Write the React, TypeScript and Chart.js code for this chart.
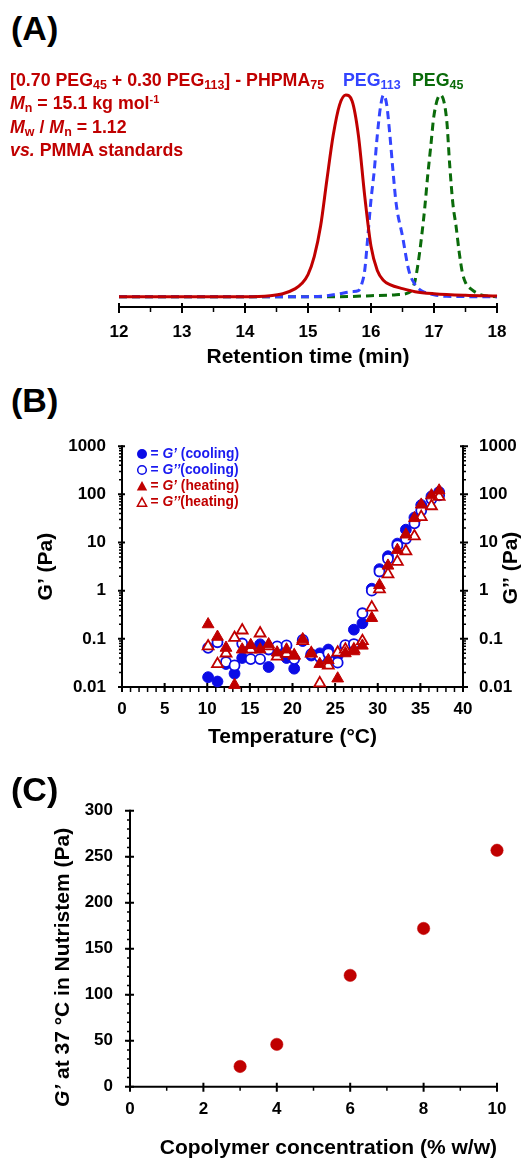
import React, { useEffect, useRef } from 'react';
import { Chart, registerables } from 'chart.js';

Chart.register(...registerables);

const FONT = "'Liberation Sans', Arial, Helvetica, sans-serif";
const RED = '#c00000';
const BLUE = '#0b0be6';
const BLUE_TEXT = '#1a1af0';
const BLUE_DASH = '#3344ff';
const GREEN = '#0a6b0a';

// ---------- Panel A: SEC traces (normalised RI signal vs retention time) ----------
const copolymerTime = [12.0, 14.0, 14.4, 14.6, 14.8, 14.9, 15.0, 15.1, 15.2, 15.3, 15.4, 15.5, 15.6, 15.7, 15.8, 15.9, 16.0, 16.1, 16.2, 16.3, 16.5, 16.7, 17.0, 17.5, 18.0];
const copolymerSignal = [0.0, 0.0, 0.005, 0.015, 0.04, 0.065, 0.11, 0.2, 0.35, 0.58, 0.8, 0.95, 1.0, 0.97, 0.8, 0.5, 0.25, 0.13, 0.08, 0.06, 0.04, 0.025, 0.015, 0.007, 0.003];

const peg113Time = [12.0, 15.0, 15.3, 15.5, 15.7, 15.8, 15.85, 15.9, 15.95, 16.0, 16.05, 16.1, 16.15, 16.2, 16.25, 16.3, 16.35, 16.4, 16.5, 16.6, 16.7, 16.8, 17.0, 17.2, 18.0];
const peg113Signal = [0.0, 0.0, 0.005, 0.015, 0.025, 0.03, 0.06, 0.13, 0.3, 0.48, 0.62, 0.8, 0.94, 1.0, 0.95, 0.8, 0.62, 0.46, 0.3, 0.13, 0.06, 0.03, 0.01, 0.002, 0.0];

const peg45Time = [12.0, 15.5, 16.0, 16.4, 16.6, 16.65, 16.7, 16.75, 16.8, 16.85, 16.9, 16.95, 17.0, 17.1, 17.2, 17.25, 17.3, 17.35, 17.4, 17.45, 17.5, 17.6, 17.7, 17.8, 18.0];
const peg45Signal = [0.0, 0.0, 0.005, 0.01, 0.02, 0.035, 0.08, 0.17, 0.29, 0.43, 0.6, 0.75, 0.9, 1.0, 0.88, 0.65, 0.46, 0.35, 0.22, 0.12, 0.07, 0.035, 0.015, 0.005, 0.0];

const timeTicks = [12, 13, 14, 15, 16, 17, 18];

// ---------- Panel B: rheology vs temperature ----------
const temperatures = [10.1, 11.2, 12.2, 13.2, 14.1, 15.1, 16.2, 17.2, 18.2, 19.3, 20.2, 21.2, 22.2, 23.2, 24.2, 25.3, 26.2, 27.2, 28.2, 29.3, 30.2, 31.2, 32.3, 33.3, 34.3, 35.1, 36.3, 37.2];
const gPrimeCooling = [0.016, 0.013, 0.03, 0.019, 0.04, 0.065, 0.077, 0.026, 0.05, 0.04, 0.024, 0.09, 0.045, 0.05, 0.06, 0.045, 0.07, 0.155, 0.21, 1.1, 2.8, 5.2, 9.5, 18.5, 33, 60, 91, 112];
const gDoublePrimeCooling = [0.065, 0.085, 0.033, 0.028, 0.08, 0.038, 0.038, 0.06, 0.07, 0.073, 0.038, 0.095, 0.048, 0.042, 0.05, 0.032, 0.074, 0.078, 0.34, 1.0, 2.5, 4.6, 8.7, 12, 25, 46, 80, 95];
const gPrimeHeating = [0.2, 0.11, 0.065, 0.011, 0.06, 0.074, 0.06, 0.077, 0.052, 0.06, 0.045, 0.098, 0.05, 0.03, 0.036, 0.015, 0.05, 0.055, 0.072, 0.27, 1.3, 3.3, 7, 14.6, 32, 61, 95, 120];
const gDoublePrimeHeating = [0.07, 0.03, 0.05, 0.105, 0.15, 0.06, 0.13, 0.07, 0.043, 0.049, 0.045, 0.09, 0.05, 0.012, 0.028, 0.052, 0.06, 0.06, 0.09, 0.45, 1.07, 2.2, 4.0, 6.6, 13.5, 34, 57, 89];

const tempTicks = [0, 5, 10, 15, 20, 25, 30, 35, 40];
const modulusTicks = [0.01, 0.1, 1, 10, 100, 1000];
const modulusTickLabels = ['0.01', '0.1', '1', '10', '100', '1000'];

// ---------- Panel C: G' at 37 °C vs concentration ----------
const concentrations = [3, 4, 6, 8, 10];
const storageModulus37 = [22, 46, 121, 172, 257];
const concTicks = [0, 2, 4, 6, 8, 10];
const gTicks = [0, 50, 100, 150, 200, 250, 300];

// ---------- helpers ----------
type AxisSpec = {
  id: string;
  side: 'bottom' | 'left' | 'right';
  major: number[];
  minor: number[];
  majIn: number;
  majOut: number;
  minIn: number;
  minOut: number;
};

function range(a: number, b: number, step: number) {
  const out: number[] = [];
  for (let v = a; v <= b + 1e-9; v += step) out.push(Math.round(v * 1000) / 1000);
  return out;
}

function logMinor(minExp: number, maxExp: number) {
  const out: number[] = [];
  for (let e = minExp; e < maxExp; e++) {
    for (let m = 2; m <= 9; m++) out.push(m * Math.pow(10, e));
  }
  return out;
}

function makeAxisPlugin(specs: AxisSpec[]) {
  return {
    id: 'customAxes',
    beforeDatasetsDraw(chart: any) {
      const ctx = chart.ctx;
      const ca = chart.chartArea;
      ctx.save();
      ctx.strokeStyle = '#000';
      ctx.lineCap = 'butt';
      for (const s of specs) {
        const sc = chart.scales[s.id];
        ctx.lineWidth = 2;
        ctx.beginPath();
        if (s.side === 'bottom') {
          ctx.moveTo(ca.left - 1, ca.bottom);
          ctx.lineTo(ca.right + 1, ca.bottom);
        } else {
          const x = s.side === 'left' ? ca.left : ca.right;
          ctx.moveTo(x, ca.top - 1);
          ctx.lineTo(x, ca.bottom + 1);
        }
        ctx.stroke();
        const drawSet = (vals: number[], inL: number, outL: number, w: number) => {
          ctx.lineWidth = w;
          ctx.beginPath();
          for (const v of vals) {
            const p = sc.getPixelForValue(v);
            if (s.side === 'bottom') {
              ctx.moveTo(p, ca.bottom - inL);
              ctx.lineTo(p, ca.bottom + outL);
            } else if (s.side === 'left') {
              ctx.moveTo(ca.left - outL, p);
              ctx.lineTo(ca.left + inL, p);
            } else {
              ctx.moveTo(ca.right - inL, p);
              ctx.lineTo(ca.right + outL, p);
            }
          }
          ctx.stroke();
        };
        drawSet(s.minor, s.minIn, s.minOut, 1.5);
        drawSet(s.major, s.majIn, s.majOut, 2);
      }
      ctx.restore();
    },
  };
}

type Seg = { text: string; italic?: boolean };
type RotTitle = { x: number; y: number; size: number; segs: Seg[]; anchor: 'start' | 'center' };

function makeRotTitlePlugin(items: RotTitle[]) {
  return {
    id: 'rotTitles',
    afterDraw(chart: any) {
      const ctx = chart.ctx;
      for (const t of items) {
        ctx.save();
        ctx.translate(t.x, t.y);
        ctx.rotate(-Math.PI / 2);
        ctx.textBaseline = 'middle';
        ctx.textAlign = 'left';
        ctx.fillStyle = '#000';
        const fontOf = (s: Seg) => `${s.italic ? 'italic ' : ''}bold ${t.size}px ${FONT}`;
        let total = 0;
        for (const s of t.segs) {
          ctx.font = fontOf(s);
          total += ctx.measureText(s.text).width;
        }
        let pos = t.anchor === 'center' ? -total / 2 : 0;
        for (const s of t.segs) {
          ctx.font = fontOf(s);
          ctx.fillText(s.text, pos, 0);
          pos += ctx.measureText(s.text).width;
        }
        ctx.restore();
      }
    },
  };
}

function fixedTicks(values: number[]) {
  return (scale: any) => {
    scale.ticks = values.map((v) => ({ value: v }));
  };
}

function ChartCanvas({ make, top, height }: { make: () => any; top: number; height: number }) {
  const ref = useRef<HTMLCanvasElement | null>(null);
  useEffect(() => {
    if (!ref.current) return;
    const chart = new Chart(ref.current, make());
    return () => chart.destroy();
  }, []);
  return (
    <canvas
      ref={ref}
      width={527}
      height={height}
      style={{ position: 'absolute', left: 0, top, width: 527, height }}
    />
  );
}

const tickFont = { family: FONT, size: 17, weight: 'bold' as const };
const titleFont = { family: FONT, size: 21, weight: 'bold' as const };
const noGrid = { display: false, drawTicks: false, tickLength: 0 };

// ---------- chart configs ----------
function makeChartA() {
  const toPts = (xs: number[], ys: number[]) => xs.map((x, i) => ({ x, y: ys[i] }));
  return {
    type: 'line',
    data: {
      datasets: [
        { label: 'copolymer', data: toPts(copolymerTime, copolymerSignal), borderColor: RED, borderWidth: 3, pointRadius: 0, cubicInterpolationMode: 'monotone', fill: false, clip: false },
        { label: 'PEG113', data: toPts(peg113Time, peg113Signal), borderColor: BLUE_DASH, borderWidth: 3, borderDash: [8, 5], pointRadius: 0, cubicInterpolationMode: 'monotone', fill: false, clip: false },
        { label: 'PEG45', data: toPts(peg45Time, peg45Signal), borderColor: GREEN, borderWidth: 3, borderDash: [8, 5], pointRadius: 0, cubicInterpolationMode: 'monotone', fill: false, clip: false },
      ],
    },
    options: {
      responsive: false,
      animation: false,
      events: [],
      layout: { padding: { left: 119, right: 30, top: 35, bottom: 0 } },
      plugins: { legend: { display: false }, tooltip: { enabled: false } },
      scales: {
        x: {
          type: 'linear',
          min: 12,
          max: 18,
          afterBuildTicks: fixedTicks(timeTicks),
          afterFit: (s: any) => { s.height = 73; },
          grid: noGrid,
          border: { display: false },
          ticks: { font: tickFont, color: '#000', padding: 15, maxRotation: 0, autoSkip: false, callback: (v: any) => String(v) },
          title: { display: true, text: 'Retention time (min)', font: titleFont, color: '#000', padding: { top: 0, bottom: 10 } },
        },
        y: { type: 'linear', display: false, min: -0.051, max: 1.0 },
      },
    },
    plugins: [
      makeAxisPlugin([
        { id: 'x', side: 'bottom', major: timeTicks, minor: range(12.5, 17.5, 1), majIn: 4, majOut: 6, minIn: 0, minOut: 5 },
      ]),
    ],
  };
}

function makeChartB() {
  const pts = (ys: number[]) => temperatures.map((t, i) => ({ x: t, y: ys[i] }));
  return {
    type: 'scatter',
    data: {
      datasets: [
        { label: "G' (heating)", data: pts(gPrimeHeating), pointStyle: 'triangle', pointRadius: 6.8, pointBackgroundColor: RED, pointBorderColor: RED, pointBorderWidth: 1, clip: false },
        { label: "G'' (heating)", data: pts(gDoublePrimeHeating), pointStyle: 'triangle', pointRadius: 6.3, pointBackgroundColor: '#ffffff', pointBorderColor: RED, pointBorderWidth: 1.8, clip: false },
        { label: "G'' (cooling)", data: pts(gDoublePrimeCooling), pointStyle: 'circle', pointRadius: 5, pointBackgroundColor: '#ffffff', pointBorderColor: BLUE, pointBorderWidth: 1.8, clip: false },
        { label: "G' (cooling)", data: pts(gPrimeCooling), pointStyle: 'circle', pointRadius: 5.4, pointBackgroundColor: BLUE, pointBorderColor: BLUE, pointBorderWidth: 1, clip: false },
      ],
    },
    options: {
      responsive: false,
      animation: false,
      events: [],
      layout: { padding: { left: 0, right: 0, top: 21.7, bottom: 0 } },
      plugins: { legend: { display: false }, tooltip: { enabled: false } },
      scales: {
        x: {
          type: 'linear',
          min: 0,
          max: 40,
          afterBuildTicks: fixedTicks(tempTicks),
          afterFit: (s: any) => { s.height = 73; },
          grid: noGrid,
          border: { display: false },
          ticks: { font: tickFont, color: '#000', padding: 12, maxRotation: 0, autoSkip: false, callback: (v: any) => String(v) },
          title: { display: true, text: 'Temperature (°C)', font: titleFont, color: '#000', padding: { top: 0, bottom: 10.4 } },
        },
        y: {
          type: 'logarithmic',
          position: 'left',
          min: 0.01,
          max: 1000,
          afterBuildTicks: fixedTicks(modulusTicks),
          afterFit: (s: any) => { s.width = 122; },
          grid: noGrid,
          border: { display: false },
          ticks: { font: tickFont, color: '#000', padding: 16, autoSkip: false, callback: (v: any) => modulusTickLabels[modulusTicks.indexOf(Number(v))] ?? '' },
          title: { display: true, text: 'G’ (Pa)', font: titleFont, color: '#000', padding: { top: 33.5, bottom: 0 } },
        },
        y2: {
          type: 'logarithmic',
          position: 'right',
          min: 0.01,
          max: 1000,
          afterBuildTicks: fixedTicks(modulusTicks),
          afterFit: (s: any) => { s.width = 64; },
          grid: noGrid,
          border: { display: false },
          ticks: { font: tickFont, color: '#000', padding: 16, autoSkip: false, callback: (v: any) => modulusTickLabels[modulusTicks.indexOf(Number(v))] ?? '' },
        },
      },
    },
    plugins: [
      makeAxisPlugin([
        { id: 'x', side: 'bottom', major: tempTicks, minor: range(1, 39, 1), majIn: 4, majOut: 5, minIn: 0, minOut: 5 },
        { id: 'y', side: 'left', major: modulusTicks, minor: logMinor(-2, 3), majIn: 3, majOut: 4, minIn: 0, minOut: 3 },
        { id: 'y2', side: 'right', major: modulusTicks, minor: logMinor(-2, 3), majIn: 3, majOut: 5, minIn: 0, minOut: 3 },
      ]),
      makeRotTitlePlugin([
        { x: 511, y: 148, size: 21, anchor: 'center', segs: [{ text: 'G’’ (Pa)' }] },
      ]),
    ],
  };
}

function makeChartC() {
  return {
    type: 'scatter',
    data: {
      datasets: [
        { label: "G' at 37 °C", data: concentrations.map((c, i) => ({ x: c, y: storageModulus37[i] })), pointStyle: 'circle', pointRadius: 6.2, pointBackgroundColor: RED, pointBorderColor: RED, pointBorderWidth: 0.5, clip: false },
      ],
    },
    options: {
      responsive: false,
      animation: false,
      events: [],
      layout: { padding: { left: 0, right: 30, top: 30.7, bottom: 0 } },
      plugins: { legend: { display: false }, tooltip: { enabled: false } },
      scales: {
        x: {
          type: 'linear',
          min: 0,
          max: 10,
          afterBuildTicks: fixedTicks(concTicks),
          afterFit: (s: any) => { s.height = 71.3; },
          grid: noGrid,
          border: { display: false },
          ticks: { font: tickFont, color: '#000', padding: 12, maxRotation: 0, autoSkip: false, callback: (v: any) => String(v) },
          title: { display: true, text: 'Copolymer concentration (% w/w)', align: 'end', font: titleFont, color: '#000', padding: { top: 0, bottom: -2.5 } },
        },
        y: {
          type: 'linear',
          min: 0,
          max: 300,
          afterBuildTicks: fixedTicks(gTicks),
          afterFit: (s: any) => { s.width = 130; },
          grid: noGrid,
          border: { display: false },
          ticks: { font: tickFont, color: '#000', padding: 17, autoSkip: false, callback: (v: any) => String(v) },
        },
      },
    },
    plugins: [
      makeAxisPlugin([
        { id: 'x', side: 'bottom', major: concTicks, minor: range(1, 9, 2), majIn: 4, majOut: 5, minIn: 0, minOut: 4 },
        { id: 'y', side: 'left', major: gTicks, minor: range(10, 290, 10), majIn: 4, majOut: 5, minIn: 0, minOut: 3 },
      ]),
      makeRotTitlePlugin([
        { x: 63, y: 327, size: 21, anchor: 'start', segs: [{ text: 'G’', italic: true }, { text: ' at 37 °C in Nutristem (Pa)' }] },
      ]),
    ],
  };
}

// ---------- HTML text pieces ----------
const Sub = ({ children }: { children: React.ReactNode }) => (
  <span style={{ fontSize: '0.7em', position: 'relative', top: 3 }}>{children}</span>
);
const Sup = ({ children }: { children: React.ReactNode }) => (
  <span style={{ fontSize: '0.62em', position: 'relative', top: -6.5 }}>{children}</span>
);

function PanelLabel({ text, top }: { text: string; top: number }) {
  return (
    <div style={{ position: 'absolute', left: 11, top, font: `bold 34px ${FONT}`, lineHeight: '34px', color: '#000', whiteSpace: 'nowrap' }}>
      {text}
    </div>
  );
}

function LegendMarker({ kind, color }: { kind: 'dot' | 'ring' | 'tri' | 'otri'; color: string }) {
  return (
    <svg width={12} height={12} style={{ position: 'absolute', left: -6, top: -6 }}>
      {kind === 'dot' && <circle cx={6} cy={6} r={5} fill={color} />}
      {kind === 'ring' && <circle cx={6} cy={6} r={4.3} fill="none" stroke={color} strokeWidth={1.5} />}
      {kind === 'tri' && <polygon points="6,1 11.2,10.5 0.8,10.5" fill={color} />}
      {kind === 'otri' && <polygon points="6,1.8 10.6,10.2 1.4,10.2" fill="none" stroke={color} strokeWidth={1.5} />}
    </svg>
  );
}

const legendRows: { kind: 'dot' | 'ring' | 'tri' | 'otri'; color: string; marker: string; g: string; rest: string }[] = [
  { kind: 'dot', color: BLUE_TEXT, marker: BLUE, g: 'G’', rest: ' (cooling)' },
  { kind: 'ring', color: BLUE_TEXT, marker: BLUE, g: 'G’’', rest: '(cooling)' },
  { kind: 'tri', color: RED, marker: RED, g: 'G’', rest: ' (heating)' },
  { kind: 'otri', color: RED, marker: RED, g: 'G’’', rest: '(heating)' },
];

export default function App() {
  return (
    <div style={{ position: 'absolute', left: 0, top: 0, width: 527, height: 1158, background: '#fff', overflow: 'hidden' }}>
      <ChartCanvas make={makeChartA} top={60} height={320} />
      <ChartCanvas make={makeChartB} top={420} height={340} />
      <ChartCanvas make={makeChartC} top={780} height={378} />

      <PanelLabel text="(A)" top={11} />
      <PanelLabel text="(B)" top={382.5} />
      <PanelLabel text="(C)" top={771.7} />

      <div style={{ position: 'absolute', left: 10, top: 70.1, font: `bold 17.8px ${FONT}`, lineHeight: '21.2px', color: RED, whiteSpace: 'nowrap' }}>
        <div>[0.70 PEG<Sub>45</Sub> + 0.30 PEG<Sub>113</Sub>] - PHPMA<Sub>75</Sub></div>
        <div><i>M</i><Sub>n</Sub> = 15.1 kg mol<Sup>-1</Sup></div>
        <div><i>M</i><Sub>w</Sub> / <i>M</i><Sub>n</Sub> = 1.12</div>
        <div><i>vs.</i> PMMA standards</div>
      </div>
      <div style={{ position: 'absolute', left: 343, top: 70.1, font: `bold 17.8px ${FONT}`, lineHeight: '21.2px', color: BLUE_DASH, whiteSpace: 'nowrap' }}>
        PEG<Sub>113</Sub>
      </div>
      <div style={{ position: 'absolute', left: 412, top: 70.1, font: `bold 17.8px ${FONT}`, lineHeight: '21.2px', color: GREEN, whiteSpace: 'nowrap' }}>
        PEG<Sub>45</Sub>
      </div>

      {legendRows.map((r, i) => (
        <div key={i} style={{ position: 'absolute', left: 141.5, top: 454 + i * 16, height: 0 }}>
          <LegendMarker kind={r.kind} color={r.marker} />
          <div style={{ position: 'absolute', left: 9, top: -9, font: `bold 13.8px ${FONT}`, lineHeight: '18px', color: r.color, whiteSpace: 'nowrap' }}>
            = <i>{r.g}</i>{r.rest}
          </div>
        </div>
      ))}
    </div>
  );
}
